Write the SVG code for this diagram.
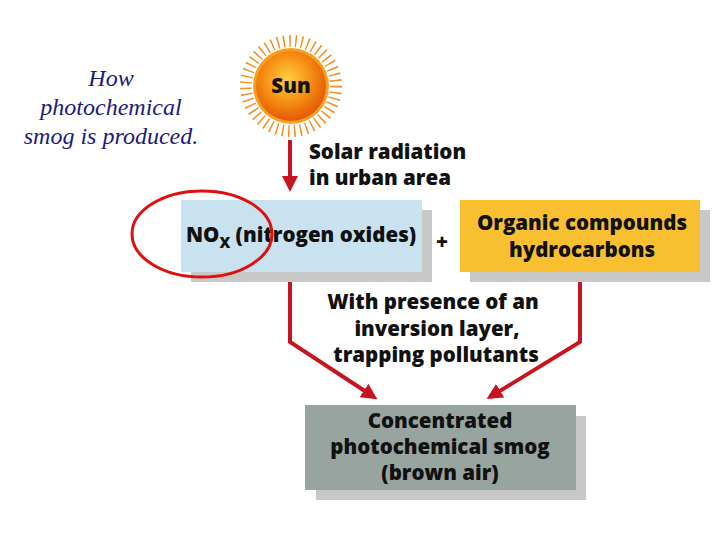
<svg xmlns="http://www.w3.org/2000/svg" width="720" height="540" viewBox="0 0 720 540">
<style>
.t{font-family:"Open Sans","Liberation Sans",sans-serif;font-weight:800;font-size:20.5px;fill:#111;text-anchor:middle}
.s{text-anchor:start}
.cap{font-family:"Liberation Serif",serif;font-style:italic;font-size:24px;fill:#1a1a80;text-anchor:middle}
.sh{fill:#c8c8c8}
.ln{fill:none;stroke:#c8141e;stroke-width:4}
</style>
<defs>
<marker id="ah" markerWidth="4" markerHeight="4" refX="3" refY="2" orient="auto"><path d="M0,0 L4,2 L0,4 z" fill="#c8141e"/></marker>
<radialGradient id="sg" cx="0.45" cy="0.4" r="0.6"><stop offset="0" stop-color="#ffd040"/><stop offset="0.6" stop-color="#f58a10"/><stop offset="1" stop-color="#e25a05"/></radialGradient>
</defs>
<rect width="720" height="540" fill="#fff"/>
<text class="cap" x="111" y="86">How</text>
<text class="cap" x="111" y="115">photochemical</text>
<text class="cap" x="111" y="144">smog is produced.</text>
<g id="sun">
<circle cx="291" cy="86" r="45" fill="none" stroke="#f39020" stroke-width="12" stroke-dasharray="1.5 4.5"/>
<circle cx="291" cy="86" r="38" fill="#f7a020"/>
<circle cx="291" cy="86" r="35" fill="url(#sg)"/>
<text class="t" x="291" y="93" font-size="21">Sun</text>
</g>
<g id="connectors">
<path class="ln" d="M290,140 V188" marker-end="url(#ah)"/>
<path class="ln" d="M290,282 V342 L374,397" marker-end="url(#ah)"/>
<path class="ln" d="M580,282 V342 L490,397" marker-end="url(#ah)"/>
</g>
<text class="t s" x="309" y="159">Solar radiation</text>
<text class="t s" x="309" y="185">in urban area</text>
<g id="nox">
<rect class="sh" x="191" y="210" width="241" height="72"/>
<rect x="181" y="200" width="241" height="72" fill="#c8e2f0"/>
<text class="t s" x="186" y="242">NO<tspan font-size="15" dy="6">X</tspan><tspan dy="-6"> (nitrogen oxides)</tspan></text>
</g>
<text class="t" x="442" y="249" font-size="28">+</text>
<g id="organic">
<rect class="sh" x="470" y="210" width="240" height="72"/>
<rect x="460" y="200" width="240" height="72" fill="#f8c030"/>
<text class="t" x="582" y="230">Organic compounds</text>
<text class="t" x="582" y="257">hydrocarbons</text>
</g>
<text class="t" x="433" y="309">With presence of an</text>
<text class="t" x="437" y="336">inversion layer,</text>
<text class="t" x="436" y="362">trapping pollutants</text>
<g id="smog">
<rect class="sh" x="316" y="416" width="270" height="84"/>
<rect x="305" y="405" width="271" height="85" fill="#98a4a0"/>
<text class="t" x="440" y="428">Concentrated</text>
<text class="t" x="440" y="454">photochemical smog</text>
<text class="t" x="440" y="480">(brown air)</text>
</g>
<ellipse cx="202" cy="234" rx="70" ry="43" fill="none" stroke="#e01010" stroke-width="3"/>
</svg>
